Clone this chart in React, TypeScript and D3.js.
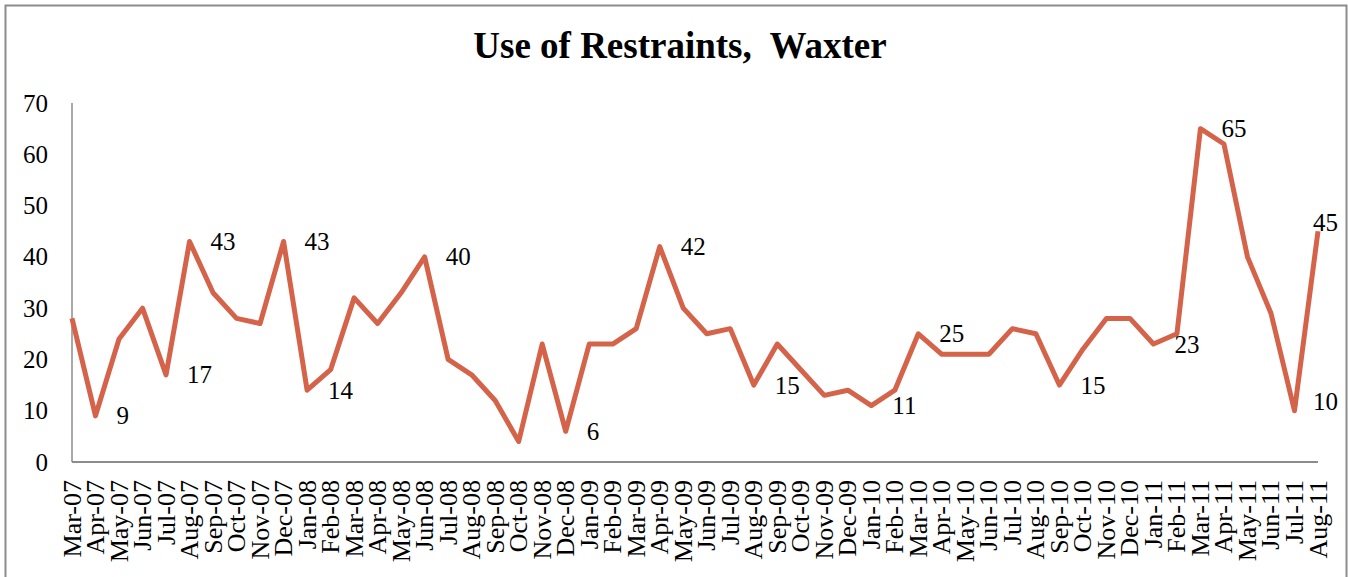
import React, { useEffect, useRef } from 'react';
import * as d3 from 'd3';

// monthly counts, Mar-07 .. Aug-11
const months = [
  'Mar-07', 'Apr-07', 'May-07', 'Jun-07', 'Jul-07', 'Aug-07', 'Sep-07', 'Oct-07', 'Nov-07', 'Dec-07',
  'Jan-08', 'Feb-08', 'Mar-08', 'Apr-08', 'May-08', 'Jun-08', 'Jul-08', 'Aug-08', 'Sep-08', 'Oct-08', 'Nov-08', 'Dec-08',
  'Jan-09', 'Feb-09', 'Mar-09', 'Apr-09', 'May-09', 'Jun-09', 'Jul-09', 'Aug-09', 'Sep-09', 'Oct-09', 'Nov-09', 'Dec-09',
  'Jan-10', 'Feb-10', 'Mar-10', 'Apr-10', 'May-10', 'Jun-10', 'Jul-10', 'Aug-10', 'Sep-10', 'Oct-10', 'Nov-10', 'Dec-10',
  'Jan-11', 'Feb-11', 'Mar-11', 'Apr-11', 'May-11', 'Jun-11', 'Jul-11', 'Aug-11',
];

const restraints = [
  28, 9, 24, 30, 17, 43, 33, 28, 27, 43,
  14, 18, 32, 27, 33, 40, 20, 17, 12, 4, 23, 6,
  23, 23, 26, 42, 30, 25, 26, 15, 23, 18, 13, 14,
  11, 14, 25, 21, 21, 21, 26, 25, 15, 22, 28, 28,
  23, 25, 65, 62, 40, 29, 10, 45,
];

// months that carry a data label
const labelledMonths = [
  'Apr-07', 'Jul-07', 'Aug-07', 'Dec-07', 'Jan-08', 'Jun-08', 'Dec-08', 'Apr-09',
  'Aug-09', 'Jan-10', 'Mar-10', 'Sep-10', 'Jan-11', 'Mar-11', 'Jul-11', 'Aug-11',
];

const yTicks = [0, 10, 20, 30, 40, 50, 60, 70];

const W = 1348;
const H = 577;
const FONT = '"Liberation Serif", "Times New Roman", serif';

const App: React.FC = () => {
  const svgRef = useRef<SVGSVGElement>(null);

  useEffect(() => {
    if (!svgRef.current) return;
    const svg = d3.select(svgRef.current);
    svg.selectAll('*').remove();

    const margin = { top: 103, right: 30, bottom: 115, left: 72 };
    const x = d3.scalePoint<string>()
      .domain(months)
      .range([margin.left, W - margin.right]);
    const y = d3.scaleLinear()
      .domain([0, 70])
      .range([H - margin.bottom, margin.top]);

    const data = months.map((m, i) => ({ month: m, value: restraints[i] }));

    // frame
    svg.append('rect')
      .attr('x', 5.5).attr('y', 5.5)
      .attr('width', W - 7).attr('height', H)
      .attr('fill', 'white')
      .attr('stroke', '#8c8c8c')
      .attr('stroke-width', 2);

    // title
    svg.append('text')
      .attr('x', 680).attr('y', 58)
      .attr('text-anchor', 'middle')
      .attr('font-family', FONT)
      .attr('font-weight', 'bold')
      .attr('font-size', 37)
      .style('white-space', 'pre')
      .text('Use of Restraints,  Waxter');

    // axes lines
    svg.append('line')
      .attr('x1', margin.left).attr('x2', margin.left)
      .attr('y1', y(70)).attr('y2', y(0))
      .attr('stroke', '#8c8c8c').attr('stroke-width', 1.5);
    svg.append('line')
      .attr('x1', margin.left).attr('x2', x('Aug-11')!)
      .attr('y1', y(0)).attr('y2', y(0))
      .attr('stroke', '#8c8c8c').attr('stroke-width', 2);

    // y tick labels
    svg.append('g')
      .selectAll('text')
      .data(yTicks)
      .enter()
      .append('text')
      .attr('x', 48)
      .attr('y', d => y(d))
      .attr('text-anchor', 'end')
      .attr('dominant-baseline', 'central')
      .attr('font-family', FONT)
      .attr('font-size', 25)
      .text(d => d);

    // x tick labels
    svg.append('g')
      .selectAll('text')
      .data(months)
      .enter()
      .append('text')
      .attr('transform', d => `translate(${x(d)},480) rotate(-90)`)
      .attr('text-anchor', 'end')
      .attr('dominant-baseline', 'central')
      .attr('font-family', FONT)
      .attr('font-size', 26)
      .text(d => d);

    // line
    const line = d3.line<{ month: string; value: number }>()
      .x(d => x(d.month)!)
      .y(d => y(d.value));

    svg.append('path')
      .datum(data)
      .attr('d', line)
      .attr('fill', 'none')
      .attr('stroke', '#d4634a')
      .attr('stroke-width', 5)
      .attr('stroke-linejoin', 'round');

    // data labels, right of the point, pulled back inside the frame near the edge
    const labels = svg.append('g')
      .selectAll('text')
      .data(data.filter(d => labelledMonths.includes(d.month)))
      .enter()
      .append('text')
      .attr('x', d => x(d.month)! + 21)
      .attr('y', d => y(d.value))
      .attr('dominant-baseline', 'central')
      .attr('font-family', FONT)
      .attr('font-size', 25)
      .text(d => d.value);

    labels.each(function (d) {
      const el = this as SVGTextElement;
      const w = el.getComputedTextLength();
      const px = x(d.month)! + 21;
      if (px + w > W - 10) {
        d3.select(el)
          .attr('x', W - 10 - w)
          .attr('y', y(d.value) - 9);
      }
    });
  }, []);

  return (
    <svg
      ref={svgRef}
      width={W}
      height={H}
      style={{ position: 'absolute', left: 0, top: 0, display: 'block' }}
    />
  );
};

export default App;
